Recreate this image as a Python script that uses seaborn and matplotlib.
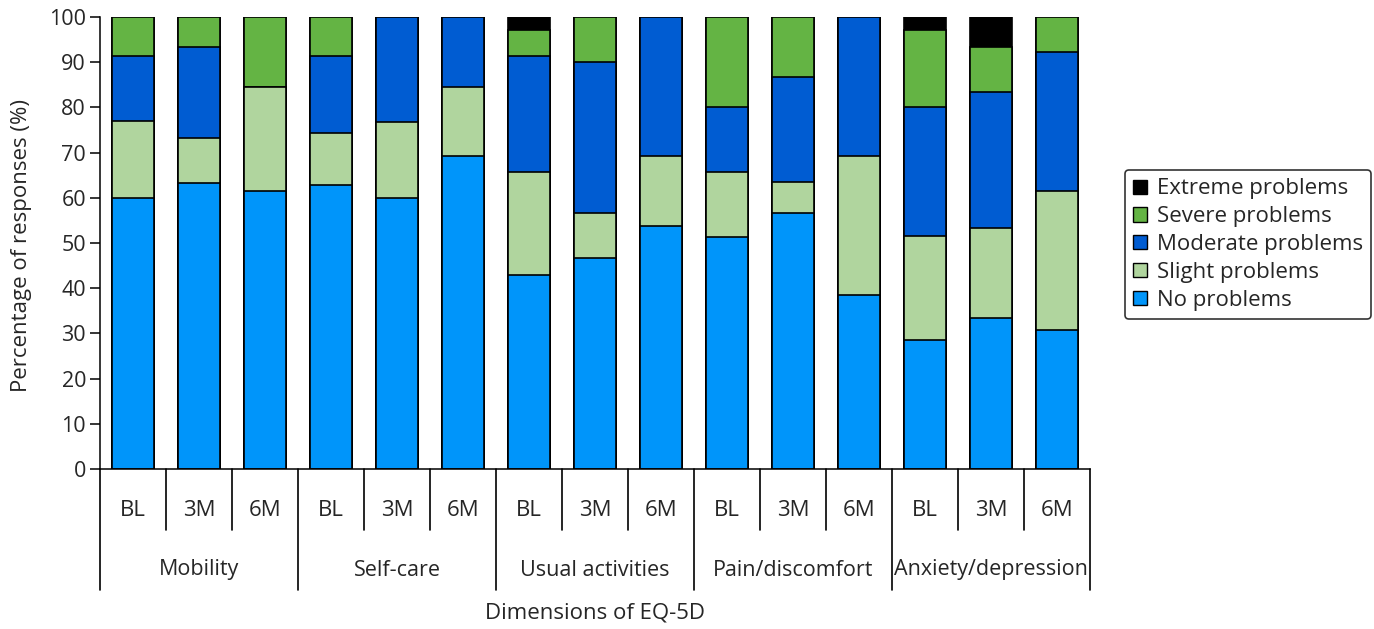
import numpy as np
import pandas as pd
import matplotlib
matplotlib.use("Agg")
import matplotlib.pyplot as plt
import seaborn as sns
from matplotlib.patches import Patch
from matplotlib.transforms import blended_transform_factory

dimensions = ["Mobility", "Self-care", "Usual activities", "Pain/discomfort", "Anxiety/depression"]
timepoints = ["BL", "3M", "6M"]
levels = ["No problems", "Slight problems", "Moderate problems", "Severe problems", "Extreme problems"]

no_problems = [60.0, 63.3, 61.5, 62.9, 60.0, 69.2, 42.9, 46.7, 53.8, 51.4, 56.7, 38.5, 28.6, 33.3, 30.8]
slight = [17.1, 10.0, 23.1, 11.4, 16.7, 15.4, 22.9, 10.0, 15.4, 14.3, 6.7, 30.8, 22.9, 20.0, 30.8]
moderate = [14.3, 20.0, 0.0, 17.1, 23.3, 15.4, 25.7, 33.3, 30.8, 14.3, 23.3, 30.8, 28.6, 30.0, 30.8]
severe = [8.6, 6.7, 15.4, 8.6, 0.0, 0.0, 5.7, 10.0, 0.0, 20.0, 13.3, 0.0, 17.1, 10.0, 7.7]
extreme = [0.0, 0.0, 0.0, 0.0, 0.0, 0.0, 2.9, 0.0, 0.0, 0.0, 0.0, 0.0, 2.9, 6.7, 0.0]

colors = {"No problems": "#0095FA", "Slight problems": "#B0D59E",
          "Moderate problems": "#005CD2", "Severe problems": "#64B444",
          "Extreme problems": "#000000"}

bars = [f"{d}|{t}" for d in dimensions for t in timepoints]
vals = np.array([no_problems, slight, moderate, severe, extreme])
cum = np.cumsum(vals, axis=0)
cum = cum / cum[-1] * 100.0
df = pd.DataFrame({"bar": bars})
for i, lv in enumerate(levels):
    df[lv] = cum[i]

sns.set_style("white")
plt.rcParams["font.family"] = ["Open Sans", "DejaVu Sans"]
FS = 16

fig = plt.figure(figsize=(13.74, 6.29), dpi=100)
ax = fig.add_axes([100 / 1374, 1 - 469 / 629, 990 / 1374, 452 / 629])

for lv in reversed(levels):
    sns.barplot(data=df, x="bar", y=lv, order=bars, color=colors[lv], saturation=1,
                width=0.65, edgecolor="black", linewidth=1.2, errorbar=None, ax=ax)

ax.set_ylim(0, 100)
ax.set_xlim(-0.5, len(bars) - 0.5)
ax.set_yticks(np.arange(0, 101, 10))
ax.tick_params(axis="y", direction="out", length=7, width=1.1, labelsize=15.5, color="black",
               left=True, pad=3)
ax.set_xticks([])
ax.set_xlabel("")
ax.set_ylabel("")
for s in ["top", "right"]:
    ax.spines[s].set_visible(False)
for s in ["left", "bottom"]:
    ax.spines[s].set_color("black")
    ax.spines[s].set_linewidth(1.1)

trans = blended_transform_factory(ax.transData, ax.transAxes)
h = 452.0
y_sub_end = -(530 - 469) / h
y_grp_end = -(590 - 469) / h
for i in range(len(bars) + 1):
    x = i - 0.5
    end = y_grp_end if i % 3 == 0 else y_sub_end
    ax.plot([x, x], [0, end], transform=trans, clip_on=False, color="black", lw=1.2)
for i, b in enumerate(bars):
    ax.text(i, -(510 - 469) / h, b.split("|")[1], transform=trans, ha="center", va="center", fontsize=FS)
for j, d in enumerate(dimensions):
    ax.text(3 * j + 1, -(570 - 469) / h, d, transform=trans, ha="center", va="center", fontsize=15.5)

fig.text(595 / 1374, 1 - 613 / 629, "Dimensions of EQ-5D", ha="center", va="center", fontsize=FS)
fig.text(22 / 1374, 1 - 245 / 629, "Percentage of responses (%)", ha="center", va="center",
         rotation=90, fontsize=FS)

handles = [Patch(facecolor=colors[lv], edgecolor="black", linewidth=1, label=lv) for lv in reversed(levels)]
leg = fig.legend(handles=handles, loc="upper left", bbox_to_anchor=(1125 / 1374, 1 - 170 / 629),
                 frameon=True, fancybox=True, edgecolor="black", fontsize=FS,
                 handlelength=0.6, handleheight=0.6, handletextpad=0.45, labelspacing=0.31,
                 borderpad=0.38, borderaxespad=0)
leg.get_frame().set_linewidth(1.2)

fig.savefig("out.png", dpi=100)
